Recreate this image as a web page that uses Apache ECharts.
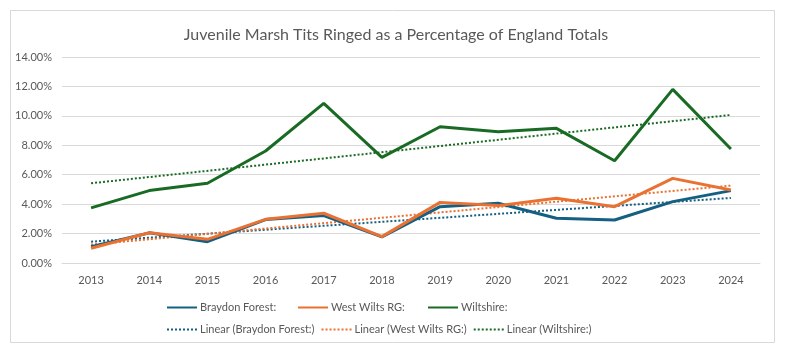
<!DOCTYPE html>
<html>
<head>
<meta charset="utf-8">
<script src="https://cdn.jsdelivr.net/npm/echarts@6/dist/echarts.min.js"></script>
<style>
  html, body { margin: 0; padding: 0; background: #fff; }
  #chart { width: 785px; height: 352px; }
</style>
</head>
<body>
<div id="chart"></div>
<script>
const years = ['2013', '2014', '2015', '2016', '2017', '2018', '2019', '2020', '2021', '2022', '2023', '2024']

const braydonForest = [1.1, 2.05, 1.45, 2.95, 3.22, 1.78, 3.83, 4.06, 3.04, 2.92, 4.17, 4.92]
const westWiltsRG = [1.0, 2.06, 1.61, 2.97, 3.38, 1.79, 4.12, 3.9, 4.4, 3.83, 5.75, 4.96]
const wiltshire = [3.75, 4.92, 5.42, 7.61, 10.85, 7.18, 9.26, 8.92, 9.15, 6.95, 11.8, 7.75]

// trendline end values (2013 and 2024)
const braydonTrend = [1.45, null, null, null, null, null, null, null, null, null, null, 4.42]
const westWiltsTrend = [1.25, null, null, null, null, null, null, null, null, null, null, 5.26]
const wiltshireTrend = [5.42, null, null, null, null, null, null, null, null, null, null, 10.06]

const yTicks = { min: 0, max: 14, interval: 2 }

const BLUE = '#156082'
const ORANGE = '#E97132'
const GREEN = '#196B24'
const TEXT = '#595959'
const FONT = 'Lato'

const mainLine = (name, data, color) => ({
  name, type: 'line', data,
  symbol: 'none',
  lineStyle: { color, width: 3 },
  itemStyle: { color },
  z: 3
})

const trendLine = (name, data, color) => ({
  name, type: 'line', data,
  symbol: 'none',
  connectNulls: true,
  lineStyle: { color, width: 2, type: [2, 2] },
  itemStyle: { color },
  z: 2
})

const legendRow = (left, top, data) => ({
  left, top,
  itemWidth: 30,
  itemHeight: 3,
  itemGap: 6,
  itemStyle: { opacity: 0 },
  data,
  textStyle: { color: TEXT, fontSize: 11, fontFamily: FONT, padding: [0, 0, 0, -2] }
})

const chart = echarts.init(document.getElementById('chart'))
chart.setOption({
  animation: false,
  textStyle: { fontFamily: FONT },
  graphic: [{
    type: 'rect',
    shape: { x: 10.5, y: 10.5, width: 764, height: 332 },
    style: { fill: 'none', stroke: '#d9d9d9', lineWidth: 1 },
    silent: true
  }],
  title: {
    text: 'Juvenile Marsh Tits Ringed as a Percentage of England Totals',
    left: 391,
    textAlign: 'center',
    top: 22,
    textStyle: { color: TEXT, fontSize: 16, fontWeight: 'normal', fontFamily: FONT }
  },
  legend: [
    legendRow(161, 297, ['Braydon Forest:']),
    legendRow(292, 297, ['West Wilts RG:']),
    legendRow(422, 297, ['Wiltshire:']),
    legendRow(161, 319, ['Linear (Braydon Forest:)', 'Linear (West Wilts RG:)', 'Linear (Wiltshire:)'])
  ],
  grid: { left: 62, right: 25, top: 57, bottom: 89 },
  xAxis: {
    type: 'category',
    data: years,
    boundaryGap: true,
    axisLine: { lineStyle: { color: '#d9d9d9' } },
    axisTick: { show: false },
    axisLabel: { color: TEXT, fontSize: 11, margin: 12, fontFamily: FONT }
  },
  yAxis: {
    type: 'value',
    min: yTicks.min,
    max: yTicks.max,
    interval: yTicks.interval,
    axisLine: { show: false },
    axisTick: { show: false },
    splitLine: { lineStyle: { color: '#d9d9d9', width: 1 } },
    axisLabel: { color: TEXT, fontSize: 11, margin: 10, fontFamily: FONT, formatter: v => v.toFixed(2) + '%' }
  },
  series: [
    mainLine('Braydon Forest:', braydonForest, BLUE),
    mainLine('West Wilts RG:', westWiltsRG, ORANGE),
    mainLine('Wiltshire:', wiltshire, GREEN),
    trendLine('Linear (Braydon Forest:)', braydonTrend, BLUE),
    trendLine('Linear (West Wilts RG:)', westWiltsTrend, ORANGE),
    trendLine('Linear (Wiltshire:)', wiltshireTrend, GREEN)
  ]
})
</script>
</body>
</html>
